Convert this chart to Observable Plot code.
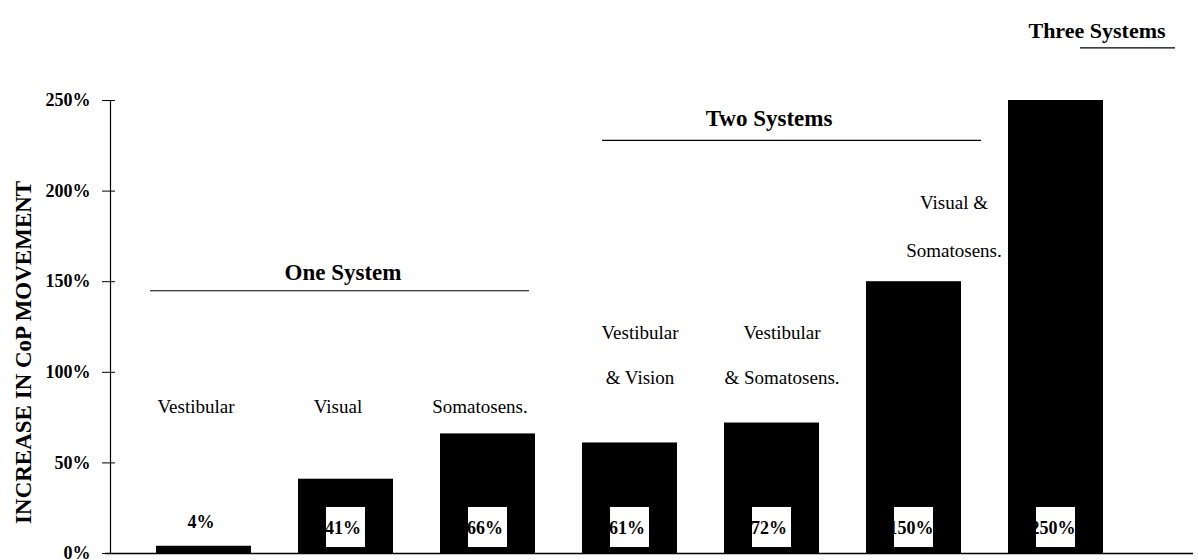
<!DOCTYPE html>
<html><head><meta charset="utf-8">
<script src="https://cdn.jsdelivr.net/npm/d3@7"></script>
<script src="https://cdn.jsdelivr.net/npm/@observablehq/plot@0.6"></script>
<style>body{margin:0;background:#fff}#chart svg{display:block}</style>
</head><body><div id="chart"></div>
<script>
// ---- data ----
const keys = ["vest", "vis", "som", "vest_vis", "vest_som", "vis_som", "all"];
const labels = ["Vestibular", "Visual", "Somatosens.", "Vestibular\n& Vision", "Vestibular\n& Somatosens.", "Visual &\nSomatosens.", ""];
const values = [4, 41, 66, 61, 72, 150, 250];
const groupOf = ["One System", "One System", "One System", "Two Systems", "Two Systems", "Two Systems", "Three Systems"];
const groupNames = ["One System", "Two Systems", "Three Systems"];
const groupFirst = ["vest", "vest_vis", "all"];
const groupLast = ["som", "vis_som", "all"];
const groupMid = ["vis", "vest_som", "all"];
const yTicks = [0, 50, 100, 150, 200, 250];
const yTitle = "INCREASE IN CoP MOVEMENT";

const data = keys.map((k, i) => ({key: k, label: labels[i], value: values[i], group: groupOf[i]}));
const groups = groupNames.map((g, i) => ({name: g, first: groupFirst[i], last: groupLast[i], mid: groupMid[i]}));
const G = name => groups.filter(g => g.name === name);

const chart = Plot.plot({
  width: 1198, height: 560,
  marginLeft: 110, marginRight: 0, marginTop: 100, marginBottom: 7,
  style: {fontFamily: "'Liberation Serif', 'Times New Roman', serif", color: "#000", background: "#fff"},
  x: {domain: keys, paddingInner: 0.333, paddingOuter: 0.487, align: 0.328, axis: null},
  y: {domain: [0, 250], axis: null},
  marks: [
    Plot.barY(data, {x: "key", y: "value", fill: "#000"}),
    Plot.barY(data.filter(d => d.value > 10), {x: "key", y1: 3.3, y2: 25.4, fill: "#fff", insetLeft: 28, insetRight: 28}),
    Plot.text(data, {x: "key", y: d => d.value > 10 ? 14 : 17, text: d => d.value + "%", fontWeight: "bold", fontSize: 18, dx: -3}),
    Plot.ruleY([0], {strokeWidth: 1.5, dx: -5}),
    Plot.frame({anchor: "left", strokeWidth: 1.2}),
    Plot.axisY({ticks: yTicks, tickFormat: d => d + "%", tickSize: 13, tickPadding: 12, dx: 5, fontSize: 18, fontWeight: "bold", label: null}),
    Plot.text([yTitle], {frameAnchor: "left", y: 111, text: d => d, rotate: -90, textAnchor: "middle", dx: -87, fontWeight: "bold", fontSize: 23}),
    // category labels
    Plot.text(data.filter(d => d.group === "One System"), {x: "key", y: 81, text: "label", fontSize: 19, dx: -8}),
    Plot.text(data.filter(d => d.key === "vest_vis" || d.key === "vest_som"), {x: "key", y: 114, text: "label", fontSize: 19, lineHeight: 2.4, dx: 10}),
    Plot.text(data.filter(d => d.key === "vis_som"), {x: "key", y: 185.5, text: "label", fontSize: 19, lineHeight: 2.55, dx: 40}),
    // group annotations
    Plot.ruleY(G("One System"), {x1: "first", x2: "last", y: 145, dx: -6, strokeWidth: 1.2}),
    Plot.text(G("One System"), {x: "mid", y: 155, text: "name", fontWeight: "bold", fontSize: 23, dx: -3}),
    Plot.ruleY(G("Two Systems"), {x1: "first", x2: "last", y: 228, dx: 20, strokeWidth: 1.2}),
    Plot.text(G("Two Systems"), {x: "mid", y: 240, text: "name", fontWeight: "bold", fontSize: 23, dx: -3}),
    Plot.ruleY(G("Three Systems"), {x1: "first", x2: "last", y: 279, dx: 72, strokeWidth: 1.2}),
    Plot.text(G("Three Systems"), {x: "mid", y: 288.6, text: "name", fontWeight: "bold", fontSize: 22, dx: 41})
  ]
});
document.getElementById("chart").appendChild(chart);
</script>
</body></html>
